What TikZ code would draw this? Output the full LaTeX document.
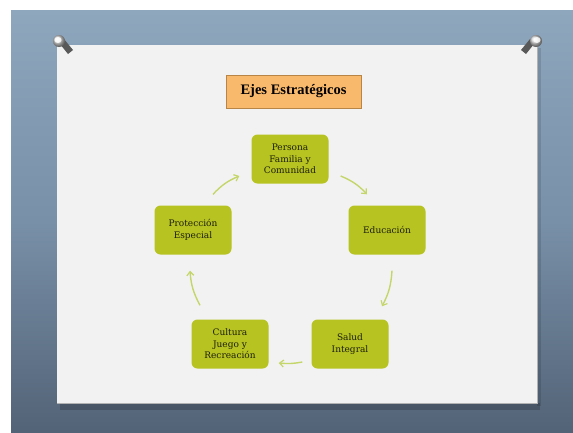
\documentclass[tikz,border=0pt]{standalone}
\usepackage{fontspec}
\setmainfont{Liberation Serif}
\newfontfamily\nodefont{DejaVu Serif}
\usetikzlibrary{arrows.meta,shadows,fadings}
\definecolor{bgtop}{HTML}{8FA7BD}
\definecolor{bgmid}{HTML}{7890A8}
\definecolor{bgbot}{HTML}{536377}
\definecolor{paper}{HTML}{F2F2F2}
\definecolor{lime}{HTML}{B6C320}
\definecolor{arrowgreen}{HTML}{C4D66A}
\definecolor{titlefill}{HTML}{F9B96C}
\definecolor{titledraw}{HTML}{B98546}
\definecolor{txt}{HTML}{1E1E0A}
\tikzset{
  axis/.style={rectangle, rounded corners=6pt, fill=lime, draw=none,
    minimum width=77pt, minimum height=49pt, align=center, text=txt,
    font=\nodefont\fontsize{9}{11.5}\selectfont, inner sep=2pt},
  titlebox/.style={rectangle, fill=titlefill, draw=titledraw, line width=0.9pt,
    minimum width=135pt, minimum height=33pt, font=\fontsize{14.5}{16}\selectfont\bfseries},
  cyc/.style={draw=arrowgreen, line width=1.4pt,
    -{Straight Barb[length=4pt,width=7pt,line width=1.2pt]}},
  pin/.style={ball color=gray!30, draw=none}
}
\begin{document}
\begin{tikzpicture}[x=1pt,y=-1pt]
\useasboundingbox (0,0) rectangle (573,432);
\fill[white] (0,0) rectangle (573,432);
% background board
\shade[top color=bgtop, bottom color=bgbot, middle color=bgmid] (11,10) rectangle (573,432);
% paper shadow
\fill[black,opacity=0.18] (60,403) rectangle (540,410);
\fill[black,opacity=0.12] (537,48) rectangle (541,406);
% paper
\fill[paper] (57,45) rectangle (537,403);
\draw[gray!60,line width=0.6pt] (57,403) -- (537,403) -- (537,45);
% pins
\fill[gray!70!black] (60,44) -- (68,54) -- (73,50) -- (64,39) -- cycle;
\shade[pin] (59,41) circle (6);
\fill[white,opacity=0.8] (58,40) ellipse (3.5 and 3);
\fill[gray!70!black] (534,44) -- (526,54) -- (521,50) -- (530,39) -- cycle;
\shade[pin] (536,41) circle (6);
\fill[white,opacity=0.8] (537,40) ellipse (3.5 and 3);
% title
\node[titlebox] (title) at (293.5,91.5) {Ejes Estratégicos};
% nodes
\node[axis] (per) at (290,159) {Persona\\Familia y\\Comunidad};
\node[axis] (edu) at (387,230) {Educación};
\node[axis] (sal) at (350,344) {Salud\\Integral};
\node[axis] (cul) at (230,344) {Cultura\\Juego y\\Recreación};
\node[axis] (pro) at (193,230) {Protección\\Especial};
% cycle arrows
\draw[cyc] ([shift={(12,17)}]per.east) to[bend left=12] ([shift={(-20,-11)}]edu.north);
\draw[cyc] ([shift={(5,16)}]edu.south) to[bend left=12] ([shift={(32,-13)}]sal.north);
\draw[cyc] ([shift={(-9,18)}]sal.west) to[bend left=8] ([shift={(10,19)}]cul.east);
\draw[cyc] ([shift={(-30,-14)}]cul.north) to[bend left=12] ([shift={(-3,16)}]pro.south);
\draw[cyc] ([shift={(20,-11)}]pro.north) to[bend left=12] ([shift={(-12,17)}]per.west);
\end{tikzpicture}
\end{document}
